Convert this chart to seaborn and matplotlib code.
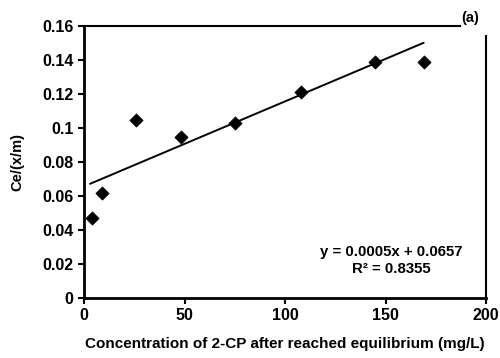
import numpy as np
import pandas as pd
import matplotlib
matplotlib.use("Agg")
import matplotlib.pyplot as plt
import seaborn as sns

# Data
conc = [4, 9, 26, 48.5, 75, 108, 145, 169]
ce_xm = [0.047, 0.062, 0.105, 0.095, 0.103, 0.121, 0.139, 0.139]
slope = 0.0005
intercept = 0.0657
eq_text = ["y = 0.0005x + 0.0657", "R² = 0.8355"]
x_ticks = [0, 50, 100, 150, 200]
y_ticks = [0, 0.02, 0.04, 0.06, 0.08, 0.1, 0.12, 0.14, 0.16]
y_tick_labels = ["0", "0.02", "0.04", "0.06", "0.08", "0.1", "0.12", "0.14", "0.16"]

sns.set_style("ticks")
plt.rcParams['font.family'] = ['Liberation Sans', 'DejaVu Sans']
plt.rcParams['font.weight'] = 'bold'
plt.rcParams['text.color'] = 'black'
plt.rcParams['axes.labelcolor'] = 'black'

fig = plt.figure(figsize=(5, 3.58), dpi=100)
ax = fig.add_axes([0.168, 0.1676, 0.804, 0.7594])

df = pd.DataFrame({"x": conc, "y": ce_xm})
xs = np.array([min(conc) - 1, max(conc)])
line_df = pd.DataFrame({"x": xs, "y": slope * xs + intercept})
sns.lineplot(data=line_df, x="x", y="y", ax=ax, color="black", linewidth=1.4)
sns.scatterplot(data=df, x="x", y="y", ax=ax, marker="D", color="black", s=45, edgecolor="black", zorder=3)

ax.set_xlim(0, 200)
ax.set_ylim(0, 0.16)
ax.set_xticks(x_ticks)
ax.set_yticks(y_ticks)
ax.set_yticklabels(y_tick_labels)
ax.tick_params(axis="both", labelsize=11.5, length=4, width=1.5, direction="out", colors="black")
for lab in ax.get_xticklabels() + ax.get_yticklabels():
    lab.set_fontweight("bold")

for side in ["left", "bottom", "top", "right"]:
    ax.spines[side].set_visible(True)
    ax.spines[side].set_color("black")
ax.spines["left"].set_linewidth(2.0)
ax.spines["bottom"].set_linewidth(2.0)
ax.spines["top"].set_linewidth(1.5)
ax.spines["right"].set_linewidth(1.5)
ax.spines["top"].set_bounds(0, 187)
ax.spines["right"].set_bounds(0, 0.154)

ax.set_xlabel("Concentration of 2-CP after reached equilibrium (mg/L)", fontsize=11, fontweight="bold", labelpad=10, color="black")
ax.set_ylabel("Ce/(x/m)", fontsize=10.5, fontweight="bold", labelpad=13, color="black")

ax.text(152.7, 0.0272, eq_text[0], ha="center", va="center", fontsize=10.8, fontweight="bold", color="black")
ax.text(152.7, 0.0171, eq_text[1], ha="center", va="center", fontsize=10.8, fontweight="bold", color="black")

fig.text(0.94, 0.95, "(a)", ha="center", va="center", fontsize=10.5, fontweight="bold", color="black")

fig.savefig("out.png", dpi=100)
